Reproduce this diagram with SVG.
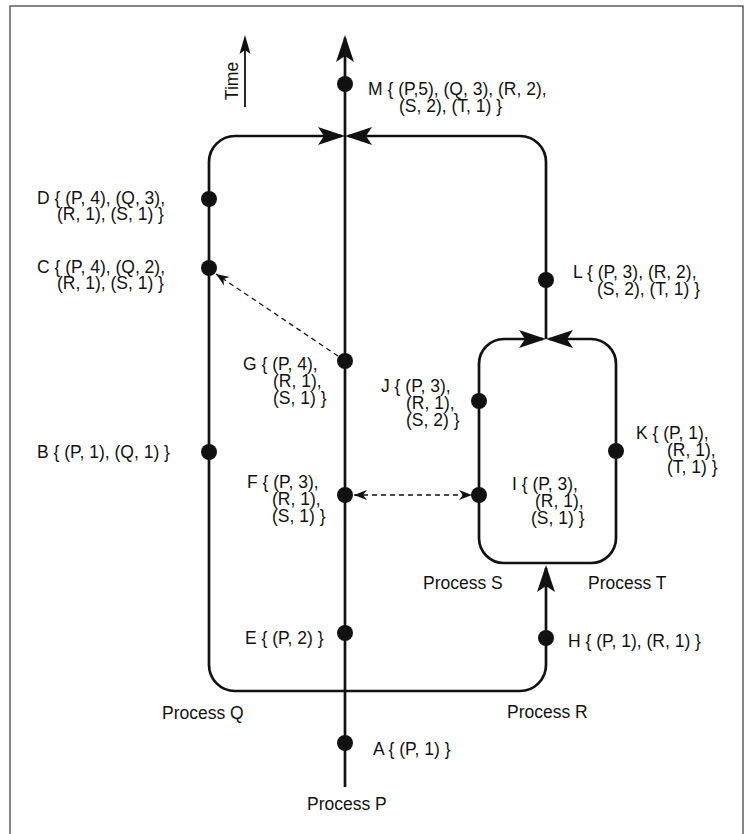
<svg xmlns="http://www.w3.org/2000/svg" width="745" height="834" viewBox="0 0 745 834">
<style>
text{font-family:"Liberation Sans",Arial,Helvetica,sans-serif;font-size:17.5px;fill:#111}
.proc{fill:none;stroke:#111;stroke-width:2.7}
.msg{fill:none;stroke:#111;stroke-width:1.3;stroke-dasharray:5,4}
.dot{fill:#111}
</style>
<defs>
<marker id="big" markerUnits="userSpaceOnUse" viewBox="-27 -10 31 20" refX="0" refY="0" markerWidth="31" markerHeight="20" orient="auto">
<path d="M3,0 L-24,-9 L-18,0 L-24,9 Z" fill="#111"/>
</marker>
<marker id="small" markerUnits="userSpaceOnUse" viewBox="-20 -7 23 14" refX="0" refY="0" markerWidth="23" markerHeight="14" orient="auto">
<path d="M3,0 L-16,-5.5 L-12,0 L-16,5.5 Z" fill="#111"/>
</marker>
<marker id="dash" markerUnits="userSpaceOnUse" viewBox="-15 -6 16 12" refX="0" refY="0" markerWidth="16" markerHeight="12" orient="auto-start-reverse">
<path d="M0,0 L-13,-5 L-9,0 L-13,5 Z" fill="#111"/>
</marker>
</defs>
<rect x="10" y="6" width="733" height="850" fill="none" stroke="#444" stroke-width="1.3"/>
<g id="connectors">
<path class="proc" d="M345,787 V38" marker-end="url(#big)"/>
<path class="proc" d="M345,691 H235 A26,26 0 0 1 209,665 V162 A26,26 0 0 1 235,136 H342" marker-end="url(#big)"/>
<path class="proc" d="M345,691 H520 A26,26 0 0 0 546,665 V568" marker-end="url(#big)"/>
<path class="proc" d="M546,339 V162 A26,26 0 0 0 520,136 H348" marker-end="url(#big)"/>
<path class="proc" d="M546,563 H504 A25,25 0 0 1 479,538 V364 A25,25 0 0 1 504,339 H543" marker-end="url(#big)"/>
<path class="proc" d="M546,563 H591 A25,25 0 0 0 616,538 V364 A25,25 0 0 0 591,339 H549" marker-end="url(#big)"/>
<path class="msg" d="M338,356 L216,274" marker-end="url(#dash)"/>
<path class="msg" d="M354,495 H472" marker-start="url(#dash)" marker-end="url(#dash)"/>
<path d="M245,107 V38" fill="none" stroke="#111" stroke-width="1.8" marker-end="url(#small)"/>
</g>
<text x="238" y="81" text-anchor="middle" transform="rotate(-90 238 81)">Time</text>
<g id="procP"><text x="307" y="810">Process P</text></g>
<g id="procQ"><text x="162" y="719">Process Q</text></g>
<g id="procR"><text x="507" y="718">Process R</text></g>
<g id="procS"><text x="423" y="589">Process S</text></g>
<g id="procT"><text x="588" y="589">Process T</text></g>
<g id="nodeA"><circle class="dot" cx="345" cy="743" r="8"/><text x="373" y="755">A { (P, 1) }</text></g>
<g id="nodeB"><circle class="dot" cx="209" cy="452" r="8"/><text x="37" y="458">B { (P, 1), (Q, 1) }</text></g>
<g id="nodeC"><circle class="dot" cx="209" cy="268" r="8"/><text x="37" y="273">C { (P, 4), (Q, 2),</text><text x="57" y="289">(R, 1), (S, 1) }</text></g>
<g id="nodeD"><circle class="dot" cx="209" cy="199" r="8"/><text x="37" y="204">D { (P, 4), (Q, 3),</text><text x="57" y="220">(R, 1), (S, 1) }</text></g>
<g id="nodeE"><circle class="dot" cx="345" cy="633" r="8"/><text x="245" y="644">E { (P, 2) }</text></g>
<g id="nodeF"><circle class="dot" cx="345" cy="495" r="8"/><text x="247" y="488">F { (P, 3),</text><text x="272" y="505">(R, 1),</text><text x="272" y="522">(S, 1) }</text></g>
<g id="nodeG"><circle class="dot" cx="345" cy="361" r="8"/><text x="243" y="370">G { (P, 4),</text><text x="273" y="387">(R, 1),</text><text x="273" y="404">(S, 1) }</text></g>
<g id="nodeH"><circle class="dot" cx="546" cy="638" r="8"/><text x="568" y="647">H { (P, 1), (R, 1) }</text></g>
<g id="nodeI"><circle class="dot" cx="479" cy="495" r="8"/><text x="512" y="490">I { (P, 3),</text><text x="535" y="507">(R, 1),</text><text x="531" y="524">(S, 1) }</text></g>
<g id="nodeJ"><circle class="dot" cx="479" cy="401" r="8"/><text x="381" y="392">J { (P, 3),</text><text x="406" y="409">(R, 1),</text><text x="406" y="426">(S, 2) }</text></g>
<g id="nodeK"><circle class="dot" cx="616" cy="451" r="8"/><text x="636" y="439">K { (P, 1),</text><text x="667" y="456">(R, 1),</text><text x="667" y="473">(T, 1) }</text></g>
<g id="nodeL"><circle class="dot" cx="546" cy="280" r="8"/><text x="573" y="278">L { (P, 3), (R, 2),</text><text x="597" y="295">(S, 2), (T, 1) }</text></g>
<g id="nodeM"><circle class="dot" cx="345" cy="84" r="8"/><text x="368" y="95">M { (P,5), (Q, 3), (R, 2),</text><text x="399" y="112">(S, 2), (T, 1) }</text></g>
</svg>
